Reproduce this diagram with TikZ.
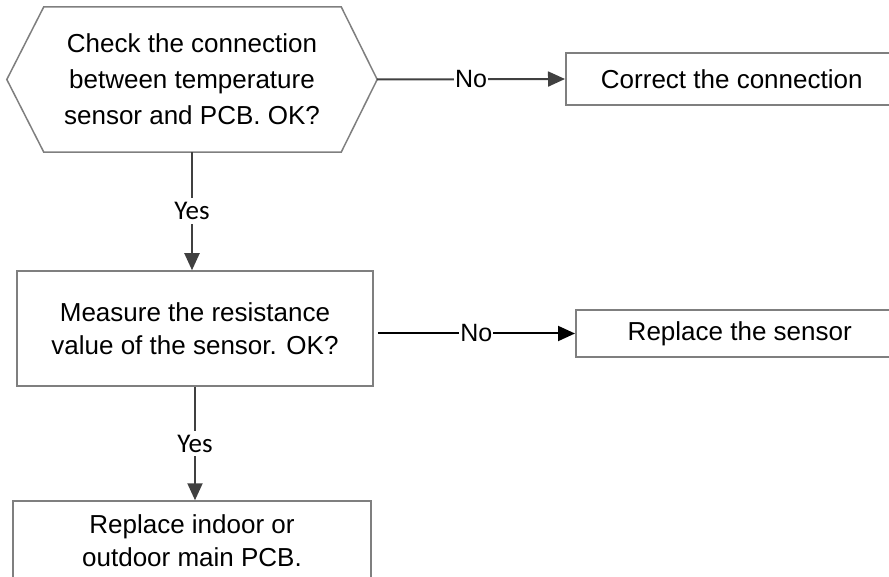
\documentclass[tikz,border=0pt]{standalone}
\usepackage{fontspec}
\setmainfont{Liberation Sans}
\newfontfamily\yesfont{Carlito}
\usetikzlibrary{arrows.meta}
\definecolor{bordergray}{HTML}{7F7F7F}
\definecolor{arrowgray}{HTML}{404040}
\begin{document}
\begin{tikzpicture}[x=1pt,y=-1pt,
  boxtext/.style={font=\fontsize{26}{33}\selectfont, align=center, text=black},
  procbox/.style={boxtext, draw=bordergray, line width=1.5pt, inner sep=0pt},
  flow/.style={line width=2pt, -{Triangle[length=17pt,width=15pt]}},
  nolabel/.style={fill=white, text=black, inner sep=1pt, font=\fontsize{25}{25}\selectfont},
  yeslabel/.style={fill=white, text=black, inner xsep=1pt, inner ysep=4pt, font=\yesfont\fontsize{27}{27}\selectfont}
]
\useasboundingbox (0,0) rectangle (889,577);
% decision hexagon
\node[font=\fontsize{26}{36}\selectfont, align=center, minimum width=370pt, minimum height=145pt, inner sep=0pt] (hex) at (192,79.5)
  {Check the connection\\between temperature\\sensor and PCB. OK?};
\draw[bordergray, line width=1.5pt, line join=miter]
  ([xshift=37pt]hex.north west) -- ([xshift=-36pt]hex.north east) -- (hex.east)
  -- ([xshift=-36pt]hex.south east) -- ([xshift=37pt]hex.south west) -- (hex.west) -- cycle;
% boxes
\node[procbox, anchor=west, minimum width=332pt, minimum height=52pt] (correct) at (565,79) {Correct the connection};
\node[procbox, minimum width=356pt, minimum height=115pt] (measure) at (195,328.5)
  {Measure the resistance\\value of the sensor. OK?};
\node[procbox, anchor=west, minimum width=328pt, minimum height=47pt] (sensor) at (575,333.5) {Replace the sensor};
\node[procbox, minimum width=358pt, minimum height=80pt] (pcb) at (192,541)
  {Replace indoor or\\outdoor main PCB.};
% connectors
\draw[flow, arrowgray] (hex.east) -- node[nolabel]{No} (correct.west);
\draw[flow, arrowgray] (hex.south) -- node[yeslabel]{Yes} (hex.south |- measure.north);
\coordinate (m2) at ([xshift=4pt]measure.east |- sensor.west);
\draw[flow, black] (m2) -- node[nolabel]{No} (sensor.west);
\draw[flow, arrowgray] (measure.south) -- node[yeslabel]{Yes} (measure.south |- pcb.north);
\end{tikzpicture}
\end{document}
